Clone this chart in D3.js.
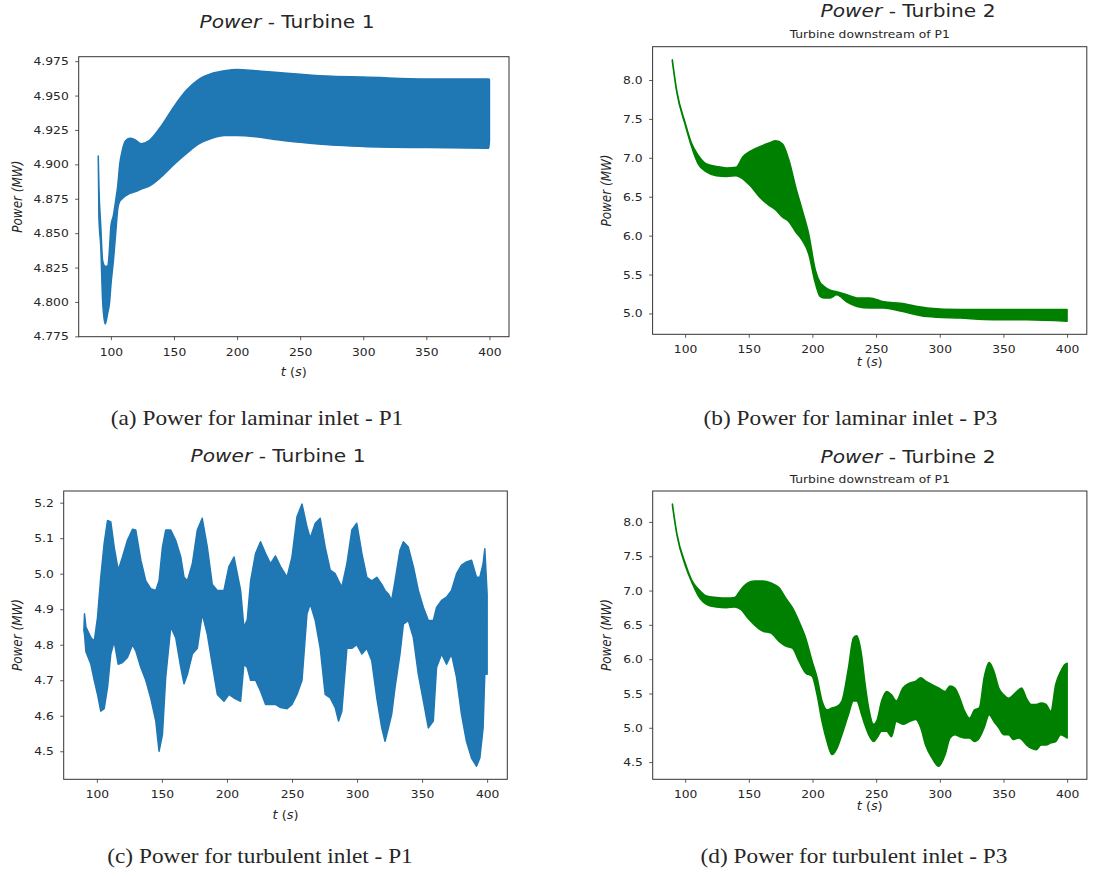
<!DOCTYPE html>
<html>
<head>
<meta charset="utf-8">
<script src="https://cdn.jsdelivr.net/npm/d3@7"></script>
<style>
    body { margin: 0; background: #fff; }
    svg text { font-family: "DejaVu Sans", sans-serif; fill: #262626; }
</style>
</head>
<body>
<svg id="fig" width="1094" height="876"></svg>
<script>
// envelopes (upper / lower) of the fast oscillating power signal

// (a) laminar inlet - P1
const laminarP1T  = [90, 90.5, 92, 93.5, 95.5, 97.5, 99, 100, 102, 104, 105.5, 107, 109, 111.5, 115, 119, 124, 130, 140, 150, 160, 170, 180, 190, 200, 215, 230, 250, 275, 300, 350, 399.5, 400];
const laminarP1Hi = [4.906, 4.885, 4.855, 4.830, 4.826, 4.826, 4.840, 4.855, 4.863, 4.875, 4.885, 4.900, 4.910, 4.917, 4.919, 4.918, 4.915, 4.917, 4.928, 4.942, 4.954, 4.962, 4.966, 4.968, 4.969, 4.968, 4.967, 4.9655, 4.964, 4.9635, 4.962, 4.962, 4.9615];
const laminarP1Lo = [4.906, 4.862, 4.840, 4.800, 4.784, 4.792, 4.800, 4.812, 4.830, 4.852, 4.868, 4.873, 4.875, 4.877, 4.879, 4.880, 4.882, 4.884, 4.891, 4.900, 4.908, 4.915, 4.919, 4.921, 4.921, 4.920, 4.918, 4.916, 4.914, 4.913, 4.9122, 4.9118, 4.917];

// (b) laminar inlet - P3
const laminarP3T  = [90, 93.5, 100, 105, 110.4, 116.8, 124.6, 132.4, 140.2, 145.3, 151.8, 158.3, 166, 171.2, 176.4, 181.6, 186.8, 192, 197, 202.3, 206, 209, 214, 219, 227, 235, 245, 256, 269, 290, 316, 342, 368, 400];
const laminarP3Hi = [8.26, 7.86, 7.455, 7.19, 7.03, 6.92, 6.89, 6.87, 6.88, 7.01, 7.09, 7.14, 7.19, 7.22, 7.18, 6.97, 6.63, 6.33, 6.03, 5.56, 5.40, 5.35, 5.30, 5.28, 5.24, 5.20, 5.20, 5.15, 5.13, 5.07, 5.05, 5.05, 5.05, 5.05];
const laminarP3Lo = [8.24, 7.84, 7.43, 7.15, 6.92, 6.82, 6.77, 6.76, 6.77, 6.73, 6.63, 6.50, 6.39, 6.33, 6.24, 6.18, 6.05, 5.94, 5.77, 5.39, 5.22, 5.20, 5.20, 5.24, 5.15, 5.09, 5.07, 5.07, 5.03, 4.96, 4.94, 4.92, 4.92, 4.90];

// (c) turbulent inlet - P1
const turbulentP1T  = [90, 90.5, 91.6, 95.4, 98, 100.5, 103, 105.6, 108.2, 110.7, 113.3, 116.4, 119.7, 123.5, 127.4, 129.9, 133.8, 137.6, 141.4, 145.3, 147.8, 150.4, 152.9, 156.8, 160.6, 164.5, 167, 169.6, 173.4, 177.2, 181, 184.9, 188.7, 192.6, 197.7, 201.5, 205.4, 210.5, 213, 215.6, 218.2, 222, 225.8, 229.7, 233.5, 237.3, 241.2, 246.2, 250, 253.8, 257.7, 261.5, 264, 267.9, 271.7, 275.5, 279.4, 283.2, 285.8, 288.3, 292.2, 296, 299.8, 303.7, 307.5, 311.3, 315.2, 319, 321.5, 324.1, 326.6, 329.2, 333, 335.6, 339.4, 343.3, 347.1, 351, 354.8, 358.6, 361.1, 365, 368.8, 372.6, 376.5, 380.3, 384.1, 388, 391.8, 394.4, 396.9, 398.2, 400];
const turbulentP1Hi = [4.84, 4.887, 4.85, 4.82, 4.81, 4.877, 4.99, 5.085, 5.15, 5.146, 5.075, 5.01, 5.047, 5.094, 5.125, 5.123, 5.038, 4.98, 4.958, 4.953, 4.98, 5.075, 5.123, 5.123, 5.094, 5.047, 4.99, 4.98, 5.028, 5.123, 5.156, 5.075, 4.97, 4.953, 4.953, 5.02, 5.047, 4.953, 4.85, 4.87, 4.98, 5.057, 5.09, 5.057, 5.028, 5.05, 5.02, 4.99, 5.047, 5.16, 5.196, 5.132, 5.10, 5.142, 5.156, 5.075, 5.01, 5.0, 4.98, 4.962, 5.028, 5.123, 5.142, 5.057, 4.99, 4.98, 4.99, 4.97, 4.953, 4.943, 4.925, 4.98, 5.066, 5.09, 5.075, 5.02, 4.953, 4.905, 4.868, 4.868, 4.905, 4.925, 4.934, 4.953, 5.0, 5.024, 5.033, 5.038, 4.99, 4.99, 5.028, 5.07, 4.943];
const turbulentP1Lo = [4.84, 4.83, 4.78, 4.745, 4.70, 4.66, 4.613, 4.62, 4.68, 4.774, 4.81, 4.745, 4.75, 4.764, 4.80, 4.783, 4.736, 4.70, 4.65, 4.585, 4.50, 4.547, 4.708, 4.85, 4.82, 4.736, 4.69, 4.717, 4.774, 4.79, 4.887, 4.83, 4.745, 4.66, 4.641, 4.66, 4.65, 4.641, 4.745, 4.736, 4.70, 4.70, 4.67, 4.632, 4.632, 4.632, 4.623, 4.62, 4.632, 4.66, 4.70, 4.887, 4.915, 4.868, 4.79, 4.66, 4.65, 4.623, 4.585, 4.613, 4.79, 4.79, 4.80, 4.774, 4.79, 4.755, 4.65, 4.566, 4.528, 4.566, 4.604, 4.68, 4.774, 4.858, 4.868, 4.82, 4.717, 4.641, 4.566, 4.585, 4.736, 4.774, 4.745, 4.774, 4.708, 4.604, 4.528, 4.481, 4.458, 4.481, 4.566, 4.717, 4.717];

// (d) turbulent inlet - P3
const turbulentP3T  = [90, 93.5, 100, 105.2, 110.4, 116.8, 124.6, 132.4, 138.9, 144, 149.2, 154.4, 160.9, 167.4, 173.8, 179, 184.2, 189.4, 194.6, 199.7, 203.6, 207.5, 211.4, 215.3, 219.2, 223.1, 228.2, 232.1, 234.7, 238.6, 241, 244.1, 248, 250.5, 254.3, 258.2, 262, 265.8, 271, 276.1, 281.2, 285, 288.8, 293.9, 299, 304.2, 308, 311.8, 315.7, 319.5, 323.3, 327.2, 331, 334.8, 338.7, 342.5, 346.3, 350.2, 354, 357.8, 361.7, 364.2, 368, 371.9, 375.7, 379.5, 383.4, 387.2, 391, 394.9, 398.2, 400];
const turbulentP3Hi = [8.26, 7.83, 7.40, 7.15, 7.02, 6.92, 6.90, 6.89, 6.90, 7.02, 7.11, 7.14, 7.14, 7.11, 7.04, 6.89, 6.75, 6.55, 6.31, 5.97, 5.73, 5.39, 5.26, 5.29, 5.31, 5.39, 5.87, 6.31, 6.34, 6.05, 5.68, 5.29, 5.05, 5.10, 5.39, 5.53, 5.48, 5.39, 5.58, 5.65, 5.68, 5.73, 5.68, 5.63, 5.58, 5.53, 5.61, 5.58, 5.43, 5.24, 5.14, 5.26, 5.29, 5.73, 5.95, 5.82, 5.58, 5.48, 5.43, 5.48, 5.55, 5.58, 5.43, 5.34, 5.34, 5.36, 5.34, 5.24, 5.63, 5.82, 5.92, 5.94];
const turbulentP3Lo = [8.24, 7.81, 7.37, 7.12, 6.92, 6.80, 6.76, 6.75, 6.76, 6.72, 6.60, 6.50, 6.41, 6.38, 6.26, 6.19, 6.16, 5.97, 5.80, 5.75, 5.48, 5.09, 4.80, 4.61, 4.70, 4.90, 5.19, 5.39, 5.39, 5.19, 5.05, 4.90, 4.80, 4.85, 4.95, 4.95, 4.87, 5.09, 5.05, 5.09, 5.12, 5.00, 4.75, 4.56, 4.44, 4.61, 4.85, 4.90, 4.87, 4.85, 4.85, 4.80, 4.85, 5.00, 5.19, 5.09, 5.00, 4.90, 4.90, 4.83, 4.85, 4.83, 4.75, 4.70, 4.68, 4.75, 4.75, 4.78, 4.80, 4.90, 4.87, 4.85];

const xTicks = [100, 150, 200, 250, 300, 350, 400];
const laminarP1YTicks = [4.775, 4.8, 4.825, 4.85, 4.875, 4.9, 4.925, 4.95, 4.975];
const laminarP3YTicks = [5.0, 5.5, 6.0, 6.5, 7.0, 7.5, 8.0];
const turbulentP1YTicks = [4.5, 4.6, 4.7, 4.8, 4.9, 5.0, 5.1, 5.2];
const turbulentP3YTicks = [4.5, 5.0, 5.5, 6.0, 6.5, 7.0, 7.5, 8.0];

const captions = [
    "(a) Power for laminar inlet - P1",
    "(b) Power for laminar inlet - P3",
    "(c) Power for turbulent inlet - P1",
    "(d) Power for turbulent inlet - P3"
];

// the source picture is a bit wider than tall, so text gets squeezed the same way
const kx = 1.12;

const panels = [
    {
        t: laminarP1T, hi: laminarP1Hi, lo: laminarP1Lo, yTicks: laminarP1YTicks, fmt: ".3f",
        color: "#1f77b4", curve: d3.curveMonotoneX, title: "Turbine 1", subtitle: null,
        box: {left: 78.7, top: 56.7, width: 430.3, height: 280},
        titlePos: [287, 27.8], ylabelPos: [17, 196.7], xlabelPos: [293.8, 376], captionPos: [257, 425]
    },
    {
        t: laminarP3T, hi: laminarP3Hi, lo: laminarP3Lo, yTicks: laminarP3YTicks, fmt: ".1f",
        color: "green", curve: d3.curveMonotoneX, title: "Turbine 2", subtitle: "Turbine downstream of P1",
        box: {left: 652.6, top: 46.7, width: 434.2, height: 287.6},
        titlePos: [908, 16.5], subtitlePos: [869.7, 38.3], ylabelPos: [606.7, 190.5], xlabelPos: [869.7, 366], captionPos: [850.5, 425]
    },
    {
        t: turbulentP1T, hi: turbulentP1Hi, lo: turbulentP1Lo, yTicks: turbulentP1YTicks, fmt: ".1f",
        color: "#1f77b4", curve: d3.curveLinear, title: "Turbine 1", subtitle: null,
        box: {left: 63.7, top: 491, width: 443.6, height: 288.3},
        titlePos: [278, 462.3], ylabelPos: [17.3, 635], xlabelPos: [285.5, 818.5], captionPos: [260, 863]
    },
    {
        t: turbulentP3T, hi: turbulentP3Hi, lo: turbulentP3Lo, yTicks: turbulentP3YTicks, fmt: ".1f",
        color: "green", curve: d3.curveMonotoneX, title: "Turbine 2", subtitle: "Turbine downstream of P1",
        box: {left: 652.7, top: 491, width: 434.2, height: 288.3},
        titlePos: [908, 462.5], subtitlePos: [869.7, 483], ylabelPos: [606.7, 635], xlabelPos: [869.7, 809.5], captionPos: [854, 863]
    }
];

const svg = d3.select("#fig");

panels.forEach((p, i) => {
    const points = p.t.map((t, j) => ({t: t, hi: p.hi[j], lo: p.lo[j]}));

    // matplotlib style 5% margins
    const tExt = d3.extent(p.t);
    const yLo = d3.min(p.lo), yHi = d3.max(p.hi);
    const tPad = (tExt[1] - tExt[0]) * 0.05;
    const yPad = (yHi - yLo) * 0.05;

    const x = d3.scaleLinear()
        .domain([tExt[0] - tPad, tExt[1] + tPad])
        .range([0, p.box.width]);
    const y = d3.scaleLinear()
        .domain([yLo - yPad, yHi + yPad])
        .range([p.box.height, 0]);

    const g = svg.append("g")
        .attr("transform", `translate(${p.box.left}, ${p.box.top})`);

    const area = d3.area()
        .x(d => x(d.t))
        .y0(d => y(d.lo))
        .y1(d => y(d.hi))
        .curve(p.curve);

    g.append("path")
        .datum(points)
        .attr("d", area)
        .attr("fill", p.color)
        .attr("stroke", p.color)
        .attr("stroke-width", 1.5)
        .attr("stroke-linejoin", "round");

    const xAxis = g.append("g")
        .attr("transform", `translate(0, ${p.box.height})`)
        .call(d3.axisBottom(x).tickValues(xTicks).tickFormat(d3.format("d")).tickSize(3.5).tickPadding(7.5));
    const yAxis = g.append("g")
        .call(d3.axisLeft(y).tickValues(p.yTicks).tickFormat(d3.format(p.fmt)).tickSize(3.5).tickPadding(6));

    [xAxis, yAxis].forEach(ax => {
        ax.select(".domain").remove();
        ax.attr("font-family", null).attr("font-size", null);
        ax.selectAll(".tick line").attr("stroke", "#333").attr("stroke-width", 0.8);
        ax.selectAll(".tick text").attr("font-size", "11px").attr("fill", "#262626");
    });
    xAxis.selectAll(".tick text").attr("transform", `scale(${kx},1)`);
    yAxis.selectAll(".tick text")
        .attr("x", -10 / kx)
        .attr("transform", `scale(${kx},1)`);

    g.append("rect")
        .attr("width", p.box.width)
        .attr("height", p.box.height)
        .attr("fill", "none")
        .attr("stroke", "#333")
        .attr("stroke-width", 1);

    // title
    const title = svg.append("text")
        .attr("transform", `translate(${p.titlePos[0]}, ${p.titlePos[1]}) scale(${kx},1)`)
        .attr("text-anchor", "middle")
        .attr("font-size", "18px")
        .attr("fill", "#000");
    title.append("tspan").attr("font-style", "italic").text("Power");
    title.append("tspan").text(" - " + p.title);

    if (p.subtitle) {
        svg.append("text")
            .attr("transform", `translate(${p.subtitlePos[0]}, ${p.subtitlePos[1]}) scale(${kx},1)`)
            .attr("text-anchor", "middle")
            .attr("font-size", "11px")
            .attr("fill", "#000")
            .text(p.subtitle);
    }

    svg.append("text")
        .attr("transform", `translate(${p.ylabelPos[0]}, ${p.ylabelPos[1]}) scale(${kx},1) rotate(-90)`)
        .attr("text-anchor", "middle")
        .attr("dy", "0.35em")
        .attr("font-size", "12px")
        .attr("font-style", "italic")
        .text("Power (MW)");

    const xl = svg.append("text")
        .attr("transform", `translate(${p.xlabelPos[0]}, ${p.xlabelPos[1]}) scale(${kx},1)`)
        .attr("text-anchor", "middle")
        .attr("font-size", "11.5px");
    xl.append("tspan").attr("font-style", "italic").text("t");
    xl.append("tspan").text(" (");
    xl.append("tspan").attr("font-style", "italic").text("s");
    xl.append("tspan").text(")");

    svg.append("text")
        .attr("transform", `translate(${p.captionPos[0]}, ${p.captionPos[1]}) scale(1.06,1)`)
        .attr("text-anchor", "middle")
        .style("font-family", "'Liberation Serif', 'Times New Roman', serif")
        .attr("font-size", "22px")
        .attr("fill", "#000")
        .text(captions[i]);
});
</script>
</body>
</html>
